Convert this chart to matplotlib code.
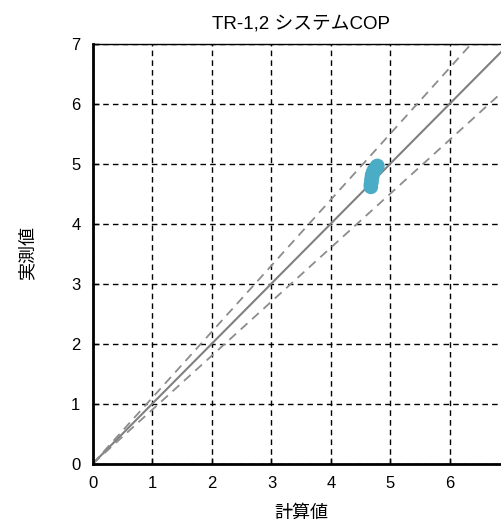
import matplotlib
matplotlib.use("Agg")
import matplotlib.pyplot as plt
import numpy as np

plt.rcParams['font.family'] = ['Liberation Sans', 'Noto Sans CJK JP', 'DejaVu Sans']

title = "TR-1,2 システムCOP"
xlabel = "計算値"
ylabel = "実測値"
ticks = [0, 1, 2, 3, 4, 5, 6, 7]
xtick_labels = ["0", "1", "2", "3", "4", "5", "6", ""]
ytick_labels = ["0", "1", "2", "3", "4", "5", "6", "7"]

# calculated vs measured COP
calc = [4.67, 4.67, 4.68, 4.68, 4.69, 4.69, 4.70, 4.71, 4.72, 4.74, 4.76, 4.77, 4.78]
meas = [4.61, 4.65, 4.69, 4.73, 4.77, 4.80, 4.83, 4.86, 4.88, 4.90, 4.93, 4.95, 4.96]

# reference line slopes: 1:1 and ±10 %
ref_slope = 1.0
band_slopes = [1.1, 0.9]

fig = plt.figure(figsize=(5.02, 5.23), dpi=100)
W, H = 502, 523
ax = fig.add_axes([93 / W, (H - 463.5) / H, 416.5 / W, 420 / H])

ax.set_xlim(0, 7)
ax.set_ylim(0, 7)
ax.set_xticks(ticks, xtick_labels)
ax.set_yticks(ticks, ytick_labels)

ax.grid(True, color='black', linestyle=(0, (4, 3)), linewidth=1.0)
ax.set_axisbelow(True)

xs = np.array([0, 7])
ax.plot(xs, ref_slope * xs, color='#808080', linewidth=1.5, zorder=2)
for s in band_slopes:
    ax.plot(xs, s * xs, color='#8c8c8c', linewidth=1.3,
            linestyle=(0, (5, 3.5)), zorder=2)

ax.scatter(calc, meas, s=110, color='#4BACC6', edgecolors='none', zorder=3)

for side in ['left', 'bottom']:
    ax.spines[side].set_linewidth(2.0)
    ax.spines[side].set_color('black')
ax.spines['top'].set_linewidth(1.0)
ax.spines['right'].set_linewidth(1.0)

ax.tick_params(direction='in', length=4, width=1, labelsize=12, pad=9)
ax.tick_params(axis='y', pad=9)
ax.set_title(title, fontsize=13.5, pad=11, loc='center')
ax.set_xlabel(xlabel, fontsize=13, labelpad=10)
ax.set_ylabel(ylabel, fontsize=13, labelpad=25)

fig.savefig("out.png", dpi=100)
